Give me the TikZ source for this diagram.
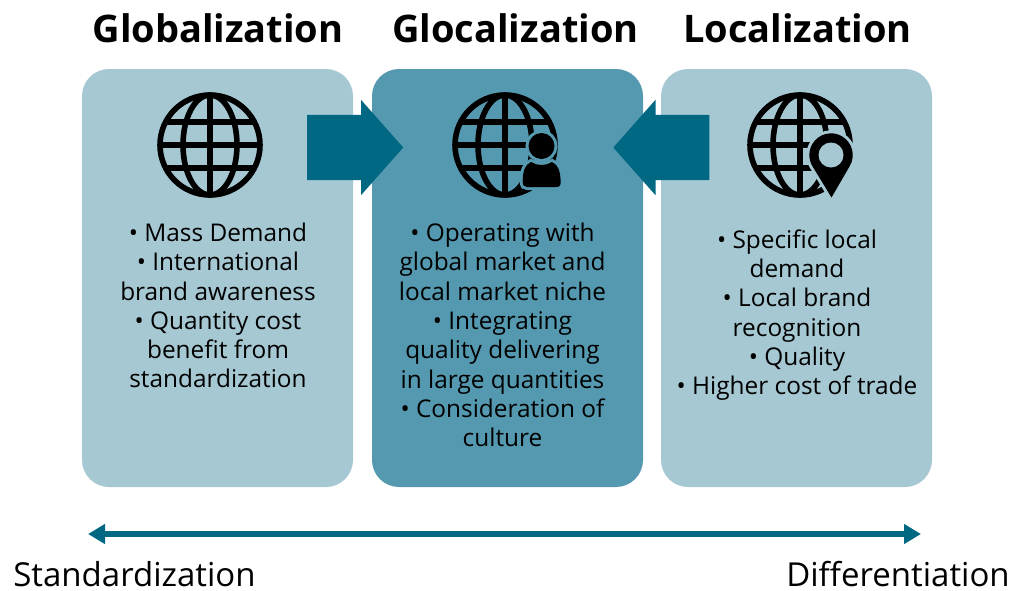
\documentclass[tikz,border=0pt]{standalone}
\usepackage{fontspec}
\setmainfont{Open Sans}
\usetikzlibrary{arrows.meta}
\usetikzlibrary{shapes.arrows}
\definecolor{boxlight}{HTML}{A6C8D3}
\definecolor{boxdark}{HTML}{5499B0}
\definecolor{teal}{HTML}{006882}
\tikzset{
  sidebox/.style={fill=boxlight,rounded corners=27pt,minimum width=271pt,minimum height=418pt,inner sep=0pt},
  midbox/.style={sidebox,fill=boxdark},
  heading/.style={font=\fontsize{38}{44}\selectfont\bfseries,inner sep=0pt},
  bullets/.style={font=\fontsize{24.4}{29.3}\selectfont,align=center,inner sep=0pt},
  endlabel/.style={font=\fontsize{33}{33}\selectfont,inner sep=0pt},
  blockarrow/.style={single arrow,fill=teal,inner sep=0pt,text height=65pt,text depth=0pt,minimum height=96pt,single arrow head extend=15pt,single arrow tip angle=97},
  halo/.style={preaction={draw=#1,line width=6pt},fill=black},
  pics/globe/.style={code={
    \draw[line width=5.6pt] (0,0) circle (50);
    \draw[line width=5.6pt] (0,0) ellipse (27 and 50);
    \draw[line width=5.6pt] (0,-50)--(0,50);
    \draw[line width=5.6pt] (-50,0)--(50,0);
    \draw[line width=5.6pt] (-44,-23)--(44,-23);
    \draw[line width=5.6pt] (-44,23)--(44,23);
  }}
}
\begin{document}
\begin{tikzpicture}[x=1pt,y=-1pt]
  \useasboundingbox (0,0) rectangle (1013,590);
  \node[sidebox] (globalbox) at (217.5,278){};
  \node[midbox] (glocalbox) at (507.5,278){};
  \node[sidebox] (localbox) at (796.5,278){};
  \node[heading] (globaltitle) at (218,28){Globalization};
  \node[heading] (glocaltitle) at (515.5,28){Glocalization};
  \node[heading] (localtitle) at (797.5,28){Localization};
  % icons
  \pic at (210,145) {globe};
  \pic at (505,145) {globe};
  \pic at (800,145) {globe};
  \path[halo=boxdark] (541.5,146) circle (13);
  \path[halo=boxdark] (522.7,181) .. controls (523,170) and (525,165) .. (531,162)
    .. controls (537,166) and (546,166) .. (552,162)
    .. controls (558,165) and (560,170) .. (560.7,181)
    .. controls (561,186) and (559,187) .. (556,187) -- (527,187)
    .. controls (524,187) and (522.5,185) .. (522.7,181) -- cycle;
  \path[halo=boxlight] (831.5,197.5) -- (849.7,166.1) arc (30.7:-210.7:21.7) -- cycle;
  \fill[boxlight] (831,155) circle (12.5);
  % arrows between the boxes
  \node[blockarrow,anchor=tail] (pushright) at (307,147.5){};
  \node[blockarrow,shape border rotate=180,anchor=tail] (pushleft) at (709.5,147.5){};
  \node[bullets] (globaltext) at (218,305.5){• Mass Demand\\• International\\brand awareness\\• Quantity cost\\benefit from\\standardization};
  \node[bullets] (glocaltext) at (502.5,335){• Operating with\\global market and\\local market niche\\• Integrating\\quality delivering\\in large quantities\\• Consideration of\\culture};
  \node[bullets] (localtext) at (797,315){• Specific local\\demand\\• Local brand\\recognition\\• Quality\\• Higher cost of trade};
  \coordinate (stdend) at (88,534);
  \coordinate (diffend) at (921,534);
  \draw[teal,line width=5.5pt,{Triangle[length=17pt,width=19pt]}-{Triangle[length=17pt,width=19pt]}] (stdend)--(diffend);
  \node[endlabel] (stdlabel) at (134.5,574){Standardization};
  \node[endlabel] (difflabel) at (898,574){Differentiation};
\end{tikzpicture}
\end{document}
